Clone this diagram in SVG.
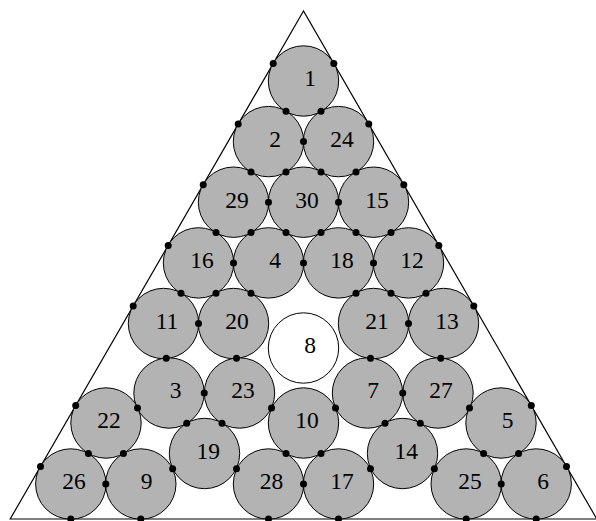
<svg xmlns="http://www.w3.org/2000/svg" width="596" height="521" viewBox="0 0 596 521">
<style>
.c{fill:#b3b3b3;stroke:#000;stroke-width:1}
.w{fill:#fff;stroke:#000;stroke-width:1}
.t{font-family:"Liberation Serif","Times New Roman",serif;font-size:23.5px;fill:#000;text-anchor:middle}
.d{fill:#000}
</style>
<rect x="0" y="0" width="596" height="521" fill="#fff"/>
<polygon id="triangle" points="303.5,11 10.2,519 596.8,519" fill="none" stroke="#000" stroke-width="1.2"/>
<g id="n1"><circle class="c" cx="303.5" cy="81" r="35.2"/><text class="t" x="310" y="86.3">1</text></g>
<g id="n2"><circle class="c" cx="268.5" cy="141.6" r="35.2"/><text class="t" x="275" y="146.9">2</text></g>
<g id="n24"><circle class="c" cx="338.5" cy="141.6" r="35.2"/><text class="t" x="342" y="146.9">24</text></g>
<g id="n29"><circle class="c" cx="233.5" cy="202.2" r="35.2"/><text class="t" x="237" y="207.5">29</text></g>
<g id="n30"><circle class="c" cx="303.5" cy="202.2" r="35.2"/><text class="t" x="307" y="207.5">30</text></g>
<g id="n15"><circle class="c" cx="373.5" cy="202.2" r="35.2"/><text class="t" x="377" y="207.5">15</text></g>
<g id="n16"><circle class="c" cx="198.5" cy="262.9" r="35.2"/><text class="t" x="202" y="268.2">16</text></g>
<g id="n4"><circle class="c" cx="268.5" cy="262.9" r="35.2"/><text class="t" x="275" y="268.2">4</text></g>
<g id="n18"><circle class="c" cx="338.5" cy="262.9" r="35.2"/><text class="t" x="342" y="268.2">18</text></g>
<g id="n12"><circle class="c" cx="408.5" cy="262.9" r="35.2"/><text class="t" x="412" y="268.2">12</text></g>
<g id="n11"><circle class="c" cx="163.5" cy="323.5" r="35.2"/><text class="t" x="167" y="328.8">11</text></g>
<g id="n20"><circle class="c" cx="233.5" cy="323.5" r="35.2"/><text class="t" x="237" y="328.8">20</text></g>
<g id="n21"><circle class="c" cx="373.5" cy="323.5" r="35.2"/><text class="t" x="377" y="328.8">21</text></g>
<g id="n13"><circle class="c" cx="443.5" cy="323.5" r="35.2"/><text class="t" x="447" y="328.8">13</text></g>
<g id="n8"><circle class="w" cx="303.5" cy="348" r="35.2"/><text class="t" x="310" y="353.3">8</text></g>
<g id="n3"><circle class="c" cx="169" cy="393" r="35.2"/><text class="t" x="175.5" y="398.3">3</text></g>
<g id="n23"><circle class="c" cx="239.5" cy="393" r="35.2"/><text class="t" x="243" y="398.3">23</text></g>
<g id="n7"><circle class="c" cx="367.5" cy="393" r="35.2"/><text class="t" x="373" y="398.3">7</text></g>
<g id="n27"><circle class="c" cx="438" cy="393" r="35.2"/><text class="t" x="441" y="398.3">27</text></g>
<g id="n22"><circle class="c" cx="106" cy="423" r="35.2"/><text class="t" x="109" y="428.3">22</text></g>
<g id="n10"><circle class="c" cx="303.5" cy="423" r="35.2"/><text class="t" x="307" y="428.3">10</text></g>
<g id="n5"><circle class="c" cx="501" cy="423" r="35.2"/><text class="t" x="507.5" y="428.3">5</text></g>
<g id="n19"><circle class="c" cx="204.5" cy="453.5" r="35.2"/><text class="t" x="208.3" y="458.8">19</text></g>
<g id="n14"><circle class="c" cx="402.5" cy="453.5" r="35.2"/><text class="t" x="406.3" y="458.8">14</text></g>
<g id="n26"><circle class="c" cx="70.8" cy="484" r="35.2"/><text class="t" x="74" y="489">26</text></g>
<g id="n9"><circle class="c" cx="140.8" cy="484" r="35.2"/><text class="t" x="146.5" y="489">9</text></g>
<g id="n28"><circle class="c" cx="268.5" cy="484" r="35.2"/><text class="t" x="271.5" y="489">28</text></g>
<g id="n17"><circle class="c" cx="338.5" cy="484" r="35.2"/><text class="t" x="342" y="489">17</text></g>
<g id="n25"><circle class="c" cx="466.2" cy="484" r="35.2"/><text class="t" x="470" y="489">25</text></g>
<g id="n6"><circle class="c" cx="536.2" cy="484" r="35.2"/><text class="t" x="543" y="489">6</text></g>
<g id="contacts" class="d">
<circle cx="286" cy="111.3" r="3.5"/><circle cx="321" cy="111.3" r="3.5"/><circle cx="303.5" cy="141.6" r="3.5"/>
<circle cx="251" cy="171.9" r="3.5"/><circle cx="286" cy="171.9" r="3.5"/><circle cx="321" cy="171.9" r="3.5"/><circle cx="356" cy="171.9" r="3.5"/>
<circle cx="268.5" cy="202.2" r="3.5"/><circle cx="338.5" cy="202.2" r="3.5"/>
<circle cx="216" cy="232.55" r="3.5"/><circle cx="251" cy="232.55" r="3.5"/><circle cx="286" cy="232.55" r="3.5"/><circle cx="321" cy="232.55" r="3.5"/><circle cx="356" cy="232.55" r="3.5"/><circle cx="391" cy="232.55" r="3.5"/>
<circle cx="233.5" cy="262.9" r="3.5"/><circle cx="303.5" cy="262.9" r="3.5"/><circle cx="373.5" cy="262.9" r="3.5"/>
<circle cx="181" cy="293.2" r="3.5"/><circle cx="216" cy="293.2" r="3.5"/><circle cx="251" cy="293.2" r="3.5"/><circle cx="356" cy="293.2" r="3.5"/><circle cx="391" cy="293.2" r="3.5"/><circle cx="426" cy="293.2" r="3.5"/>
<circle cx="198.5" cy="323.5" r="3.5"/><circle cx="408.5" cy="323.5" r="3.5"/>
<circle cx="166.25" cy="358.25" r="3.5"/><circle cx="236.5" cy="358.25" r="3.5"/><circle cx="370.5" cy="358.25" r="3.5"/><circle cx="440.75" cy="358.25" r="3.5"/>
<circle cx="137.5" cy="408" r="3.5"/><circle cx="204.25" cy="393" r="3.5"/><circle cx="271.5" cy="408" r="3.5"/><circle cx="335.5" cy="408" r="3.5"/><circle cx="402.75" cy="393" r="3.5"/><circle cx="469.5" cy="408" r="3.5"/>
<circle cx="186.75" cy="423.25" r="3.5"/><circle cx="222" cy="423.25" r="3.5"/><circle cx="385" cy="423.25" r="3.5"/><circle cx="420.25" cy="423.25" r="3.5"/>
<circle cx="88.4" cy="453.5" r="3.5"/><circle cx="123.4" cy="453.5" r="3.5"/><circle cx="286" cy="453.5" r="3.5"/><circle cx="321" cy="453.5" r="3.5"/><circle cx="483.6" cy="453.5" r="3.5"/><circle cx="518.6" cy="453.5" r="3.5"/>
<circle cx="172.65" cy="468.75" r="3.5"/><circle cx="236.5" cy="468.75" r="3.5"/><circle cx="370.5" cy="468.75" r="3.5"/><circle cx="434.35" cy="468.75" r="3.5"/>
<circle cx="105.8" cy="484" r="3.5"/><circle cx="303.5" cy="484" r="3.5"/><circle cx="501.2" cy="484" r="3.5"/>
<circle cx="273.2" cy="63.5" r="3.5"/><circle cx="238.2" cy="124.1" r="3.5"/><circle cx="203.2" cy="184.7" r="3.5"/><circle cx="168.2" cy="245.4" r="3.5"/><circle cx="133.2" cy="306" r="3.5"/><circle cx="75.7" cy="405.5" r="3.5"/><circle cx="40.5" cy="466.5" r="3.5"/>
<circle cx="333.8" cy="63.5" r="3.5"/><circle cx="368.8" cy="124.1" r="3.5"/><circle cx="403.8" cy="184.7" r="3.5"/><circle cx="438.8" cy="245.4" r="3.5"/><circle cx="473.8" cy="306" r="3.5"/><circle cx="531.3" cy="405.5" r="3.5"/><circle cx="566.5" cy="466.5" r="3.5"/>
<circle cx="70.8" cy="519" r="3.5"/><circle cx="140.8" cy="519" r="3.5"/><circle cx="268.5" cy="519" r="3.5"/><circle cx="338.5" cy="519" r="3.5"/><circle cx="466.2" cy="519" r="3.5"/><circle cx="536.2" cy="519" r="3.5"/>
</g>
</svg>
